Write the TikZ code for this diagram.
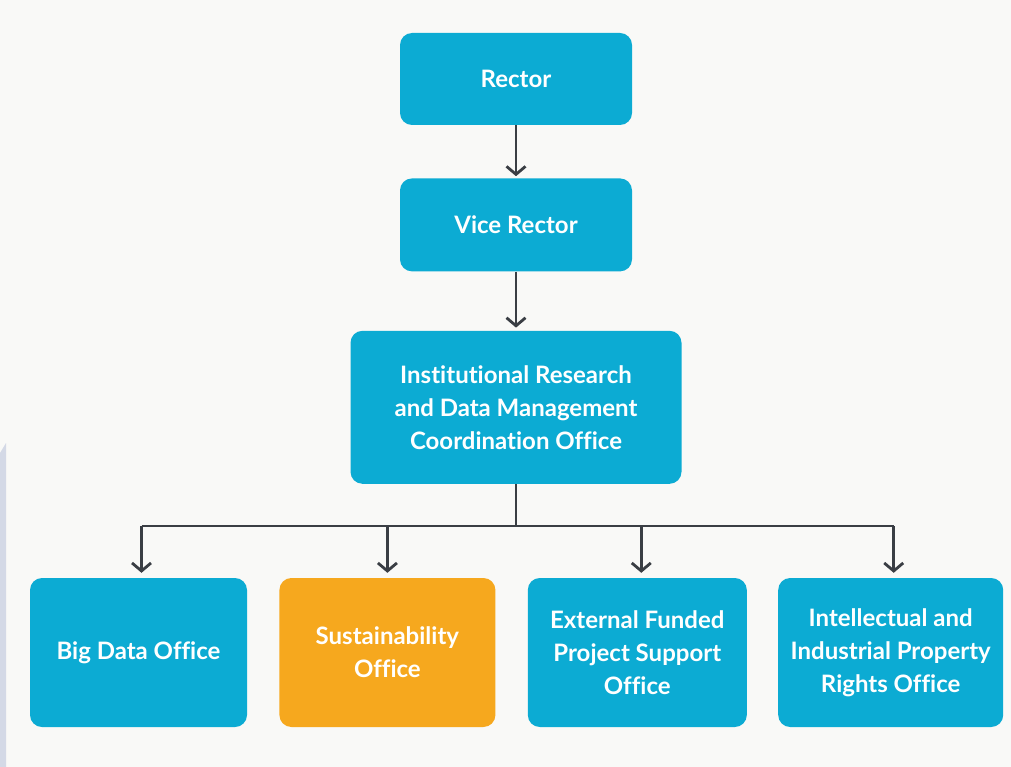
\documentclass[tikz,border=0pt]{standalone}
\usepackage{fontspec}
\setmainfont{Lato}[Ligatures=NoCommon]
\usepackage{tikz}
\usetikzlibrary{shapes,arrows,arrows.meta,positioning}
\definecolor{boxblue}{RGB}{12,171,211}
\definecolor{boxorange}{RGB}{246,168,30}
\definecolor{linegrey}{RGB}{58,62,68}
\definecolor{paper}{RGB}{249,249,247}
\definecolor{edgestrip}{RGB}{212,217,230}
\tikzstyle{block} = [rectangle, fill=boxblue, text=white, font=\fontsize{24}{33}\selectfont\bfseries,
    align=center, rounded corners=12pt, inner sep=0pt]
\tikzstyle{arrow} = [line width=2.8pt, linegrey, -{Straight Barb[length=8pt,width=19pt,line width=2.8pt]}]
\tikzstyle{line} = [line width=2.8pt, linegrey]

\begin{document}
\begin{tikzpicture}[x=1pt, y=1pt, node distance = 53pt]
		% page and background
		\useasboundingbox (0,0) rectangle (1011,-767);
		\fill[paper] (0,0) rectangle (1011,-767);
		\fill[edgestrip] (0,-453) -- (6,-443) -- (6,-767) -- (0,-767) -- cycle;

		% draw the text boxes first
		\node [block, minimum width=232pt, minimum height=92pt] (rector) at (516,-79) {Rector};
		\node [block, minimum width=232pt, minimum height=93pt, below=of rector] (vice) {Vice Rector};
		\node [block, minimum width=331pt, minimum height=153pt, below=59pt of vice] (irdm) {Institutional Research\\and Data Management\\Coordination Office};
		\node [block, minimum width=217pt, minimum height=149pt] (bigdata) at (138.5,-652.5) {Big Data Office};
		\node [block, fill=boxorange, minimum width=216pt, minimum height=149pt, right=32pt of bigdata] (sustain) {Sustainability\\Office};
		\node [block, minimum width=219pt, minimum height=149pt, right=32pt of sustain] (extfund) {External Funded\\Project Support\\Office};
		\node [block, minimum width=225pt, minimum height=149pt, right=31pt of extfund] (intprop) {Intellectual and\\Industrial Property\\Rights Office};

		% draw the edges connecting text boxes
		\draw [arrow, shorten >=2pt] (rector) -- (vice);
		\draw [arrow, shorten >=3pt] (vice) -- (irdm);
		\draw [line] (irdm.south) -- ++(0,-42) coordinate (bus);
		\draw [line] ([xshift=3pt]bigdata.north |- bus) -- ([xshift=3pt]intprop.north |- bus);
		\draw [arrow, shorten >=5pt] ([xshift=3pt]bigdata.north |- bus) -- ([xshift=3pt]bigdata.north);
		\draw [arrow, shorten >=5pt] (sustain.north |- bus) -- (sustain);
		\draw [arrow, shorten >=5pt] ([xshift=4pt]extfund.north |- bus) -- ([xshift=4pt]extfund.north);
		\draw [arrow, shorten >=5pt] ([xshift=3pt]intprop.north |- bus) -- ([xshift=3pt]intprop.north);
	\end{tikzpicture}
\end{document}
